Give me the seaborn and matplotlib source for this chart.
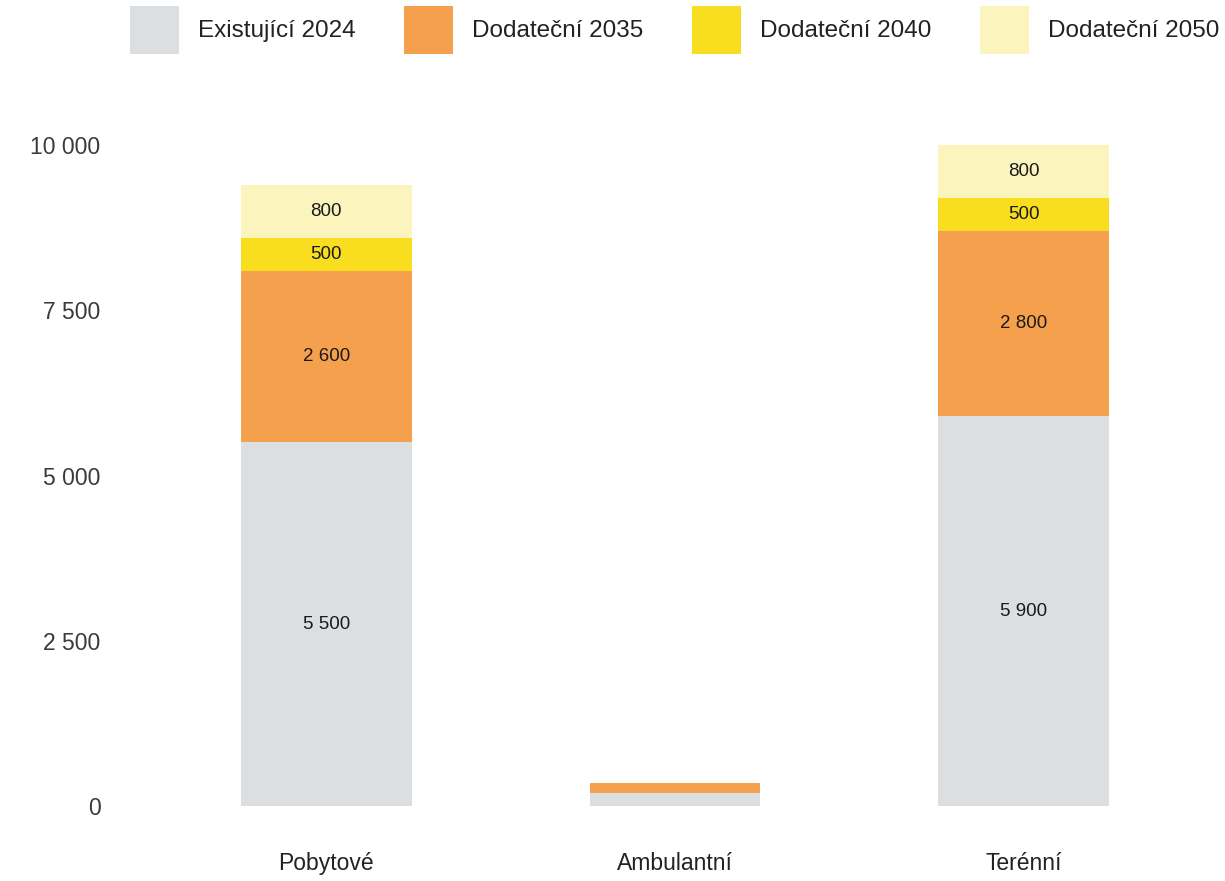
import numpy as np
import pandas as pd
import matplotlib
matplotlib.use("Agg")
import matplotlib.pyplot as plt
import seaborn as sns
from matplotlib.patches import Patch

categories = ["Pobytové", "Ambulantní", "Terénní"]
series_names = ["Existující 2024", "Dodateční 2035", "Dodateční 2040", "Dodateční 2050"]
existujici_2024 = [5500, 200, 5900]
dodatecni_2035 = [2600, 150, 2800]
dodatecni_2040 = [500, 0, 500]
dodatecni_2050 = [800, 0, 800]
show_labels = [True, False, True]
y_ticks = [0, 2500, 5000, 7500, 10000]

colors = ["#dcdfe2", "#f4a04c", "#f8de1f", "#fbf5bd"]

sns.set_theme(style="white")
plt.rcParams['font.family'] = ['Liberation Sans', 'DejaVu Sans']

series = [existujici_2024, dodatecni_2035, dodatecni_2040, dodatecni_2050]
cum = np.cumsum(np.array(series), axis=0)

fig = plt.figure(figsize=(12.25, 8.81), dpi=100)
ax = fig.add_axes([0.124, 0.0851, 0.854, 0.7503])

# layered drawing: cumulative totals from top down
for i in range(len(series) - 1, -1, -1):
    d = pd.DataFrame({"kategorie": categories, "v": cum[i]})
    sns.barplot(data=d, x="kategorie", y="v", color=colors[i], saturation=1,
                width=0.49, ax=ax, order=categories, linewidth=0)

# value labels
for j, cat in enumerate(categories):
    if not show_labels[j]:
        continue
    bottom = 0
    for i, vals in enumerate(series):
        v = vals[j]
        if v > 0:
            ax.text(j, bottom + v / 2, f"{v:,}".replace(",", " "), ha="center", va="center",
                    fontsize=13.5, color="#1a1a1a")
        bottom += v

ax.set_xlim(-0.5, 2.5)
ax.set_ylim(0, 10000)
ax.set_yticks(y_ticks)
ax.set_yticklabels([f"{t:,}".replace(",", " ") for t in y_ticks])
ax.set_xlabel("")
ax.set_ylabel("")
for s in ax.spines.values():
    s.set_visible(False)
ax.tick_params(axis="y", length=0, pad=37, labelsize=16.5, labelcolor="#3a3a3a")
ax.tick_params(axis="x", length=0, pad=33, labelsize=16.5, labelcolor="#222222")
ax.grid(False)

handles = [Patch(facecolor=c, edgecolor="none") for c in colors]
fig.legend(handles, series_names, loc="center", bbox_to_anchor=(0.551, 0.966),
           ncol=4, frameon=False, fontsize=17.5, handlelength=2.0, handleheight=2.7,
           handletextpad=0.8, columnspacing=2.0, labelcolor="#222222", borderaxespad=0)

fig.savefig("out.png", dpi=100, facecolor="white")
